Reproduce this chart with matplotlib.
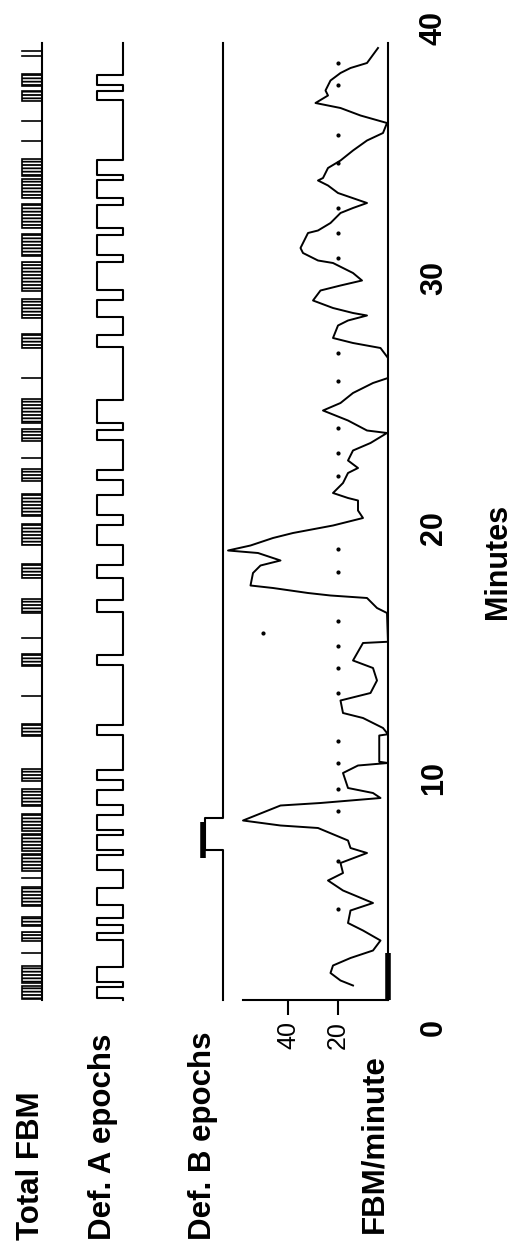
import matplotlib.pyplot as plt
import numpy as np
from matplotlib.transforms import blended_transform_factory

plt.rcParams['font.family'] = ['Liberation Sans', 'DejaVu Sans']
plt.rcParams['hatch.linewidth'] = 1.3

# FBM/minute trace (minutes, FBM per minute)
minutes = [1.7, 1.9, 2.2, 2.5, 2.8, 3.1, 3.5, 3.9, 4.2, 4.7, 5.0, 5.5, 5.9, 6.2, 6.6,
           7.0, 7.2, 7.5, 8.0, 8.1, 8.3, 8.9, 9.0, 9.2, 9.4, 9.6, 10.2, 10.5, 10.6,
           10.65, 11.7, 11.75, 12.0, 12.4, 12.6, 13.1, 13.4, 13.9, 14.4, 14.7, 15.4,
           15.45, 16.6, 16.8, 17.2, 17.3, 17.4, 17.6, 17.7, 18.2, 18.5, 18.7, 19.0,
           19.1, 19.3, 19.6, 19.8, 20.1, 20.4, 20.7, 21.1, 21.2, 21.4, 21.8, 22.2,
           22.4, 22.7, 23.1, 23.4, 23.8, 23.9, 24.3, 24.7, 25.0, 25.4, 25.8, 26.0,
           26.8, 27.2, 27.4, 27.6, 28.1, 28.3, 28.5, 28.6, 28.8, 29.1, 29.5, 29.7,
           29.9, 30.2, 30.6, 30.7, 31.0, 31.2, 31.8, 31.9, 32.2, 32.6, 32.8, 33.0,
           33.4, 33.7, 33.9, 34.0, 34.4, 34.7, 35.1, 35.5, 35.8, 36.2, 36.5, 36.8,
           37.0, 37.3, 37.5, 37.9, 38.2, 38.4, 38.6, 39.2]
fbm_rate = [14, 19, 23, 22, 15, 6, 3, 10, 16, 15, 6, 18, 24, 18, 19,
            8.4, 15, 16, 28, 43, 58, 43, 27, 3, 6, 16, 18, 12, 0,
            3.5, 3.5, 0, 2, 10, 18, 19, 7, 4.4, 6, 14, 10,
            0, 0.4, 4.4, 8.4, 23, 32, 46, 55, 54, 51, 43, 52,
            64, 55, 46, 38, 22, 10, 12, 12, 16, 22, 18, 16,
            12, 16, 14, 7, 0.4, 8.4, 16, 26, 19, 14, 6, 0,
            0, 3, 14, 22, 20, 16, 8.4, 14, 22, 30, 27, 19,
            10.4, 14, 22, 28, 34, 35, 32, 28, 23, 19, 14, 8.4,
            20, 24, 28, 26, 24, 19, 14, 8.4, 2, 0.4, 11, 19,
            29, 24, 25, 23, 19, 15, 8.4, 4]

# reference dots along 20 FBM/minute, plus a stray one at 50
ref_dots_t = [4.76, 6.7, 8.7, 9.56, 10.6, 11.5, 13.4, 14.4, 15.3, 16.3, 18.24, 19.16,
              22.1, 23.0, 24.0, 25.9, 27.0, 30.8, 31.8, 32.8, 34.6, 35.7, 37.7, 38.6]
stray_dot = (50, 15.8)

# epochs (start, end) in minutes
def_a_epochs = [(1.2, 1.64), (1.84, 2.44), (3.52, 3.8), (4.12, 4.4), (4.92, 5.6),
                (6.32, 6.92), (7.12, 7.72), (7.92, 8.52), (8.92, 9.52), (9.92, 10.32),
                (11.72, 12.12), (14.52, 14.92), (16.64, 17.12), (18.0, 18.52),
                (19.32, 20.12), (20.52, 21.32), (21.92, 22.32), (23.52, 23.92),
                (24.2, 25.12), (27.24, 27.72), (28.44, 29.12), (29.52, 30.64),
                (30.92, 31.72), (32.0, 32.92), (33.2, 33.92), (34.12, 34.72),
                (37.12, 37.5), (37.7, 38.12)]
def_b_epoch = (7.12, 8.4)
def_b_bar = (6.8, 8.24)
fbm_bursts = [(1.15, 1.7), (1.8, 2.5), (3.5, 3.85), (4.1, 4.45), (4.9, 5.65),
              (6.3, 6.95), (7.1, 7.75), (7.9, 8.55), (8.9, 9.55), (9.9, 10.35),
              (11.7, 12.15), (14.5, 14.95), (16.6, 17.15), (18.0, 18.55),
              (19.3, 20.15), (20.5, 21.35), (21.9, 22.35), (23.5, 23.95),
              (24.2, 25.15), (27.2, 27.75), (28.4, 29.15), (29.5, 30.65),
              (30.9, 31.75), (32.0, 32.95), (33.2, 33.95), (34.1, 34.75),
              (37.1, 37.5), (37.7, 38.15)]
fbm_single = [3.0, 6.0, 13.3, 15.6, 22.8, 26.0, 35.5, 36.3, 38.9, 39.1]
quiet_mark = (1.12, 3.0)

t_start, t_end = 1.12, 39.4
minute_ticks = [0, 10, 20, 30, 40]

W, H = 513, 1243
fig = plt.figure(figsize=(W / 100, H / 100), dpi=100)

# page y (px from top) -> minutes: y = 1028 - 25 t
ylo, yhi = (1028 - H) / 25, 1028 / 25


def add_px_axes(x0, x1):
    ax = fig.add_axes([x0 / W, 0, (x1 - x0) / W, 1])
    ax.set_ylim(ylo, yhi)
    ax.axis('off')
    return ax


lw = 1.5

# FBM/minute trace (added first so the tracks sit on top)
ax = fig.add_axes([200 / W, 0, 200 / W, 1])
ax.patch.set_visible(False)
ax.set_xlim((388 - 200) / 2.5, (388 - 400) / 2.5)
ax.set_ylim(ylo, yhi)
for side in ['top', 'left']:
    ax.spines[side].set_visible(False)
ax.spines['right'].set_position(('data', 0))
ax.spines['right'].set_bounds(t_start, t_end)
ax.spines['bottom'].set_position(('data', t_start))
ax.spines['bottom'].set_bounds(0, 58)
for side in ['right', 'bottom']:
    ax.spines[side].set_linewidth(lw)
ax.set_yticks([])
ax.set_xticks([20, 40])
ax.set_xticklabels(['20', '40'], rotation=90)
ax.tick_params(axis='x', direction='out', length=11, width=lw, labelsize=18, pad=4)
ax.plot(fbm_rate, minutes, color='black', lw=1.4)
ax.plot([0, 0], list(quiet_mark), color='black', lw=4, solid_capstyle='butt')
ax.plot(np.full(len(ref_dots_t), 20), ref_dots_t, ls='none', marker='o', ms=2, color='black')
ax.plot([stray_dot[0]], [stray_dot[1]], ls='none', marker='o', ms=2, color='black')

# Total FBM track
ax_fbm = add_px_axes(20, 46)
ax_fbm.set_xlim(1.1, -0.2)
for s, e in fbm_bursts:
    ax_fbm.barh((s + e) / 2, 1, height=e - s, left=0, color='white',
                edgecolor='black', hatch='-----', lw=1.2)
for s in fbm_single:
    ax_fbm.plot([0, 1], [s, s], color='black', lw=1.2)
ax_fbm.plot([0, 0], [t_start, t_end], color='black', lw=lw)

# Def. A epochs track
ax_a = add_px_axes(90, 130)
ax_a.set_xlim(1.269, -0.269)
xs, ys = [0], [t_start]
for s, e in def_a_epochs:
    xs += [0, 1, 1, 0]
    ys += [s, s, e, e]
xs.append(0)
ys.append(t_end)
ax_a.plot(xs, ys, color='black', lw=lw)

# Def. B epochs track
ax_b = add_px_axes(195, 230)
ax_b.set_xlim(1.556, -0.389)
s, e = def_b_epoch
ax_b.plot([0, 0, 1, 1, 0, 0], [t_start, s, s, e, e, t_end], color='black', lw=lw)
ax_b.plot([1.1, 1.1], list(def_b_bar), color='black', lw=4, solid_capstyle='butt')

# minute labels
tr = blended_transform_factory(fig.transFigure, ax.transData)
for m in minute_ticks:
    ax.text(434 / W, m, str(m), transform=tr, rotation=90, ha='center', va='center',
            fontsize=22, fontweight='bold')
fig.text(498 / W, 1 - 561 / H, 'Minutes', rotation=90, ha='center', va='center',
         fontsize=22, fontweight='bold')

# row labels
for label, xc, yb in [('Total FBM', 31, 1240), ('Def. A epochs', 103.5, 1240),
                      ('Def. B epochs', 203.5, 1240), ('FBM/minute', 374, 1233)]:
    fig.text(xc / W, 1 - yb / H, label, rotation=90, ha='center', va='bottom',
             fontsize=22.5, fontweight='bold')

fig.savefig('out.png', dpi=100)
